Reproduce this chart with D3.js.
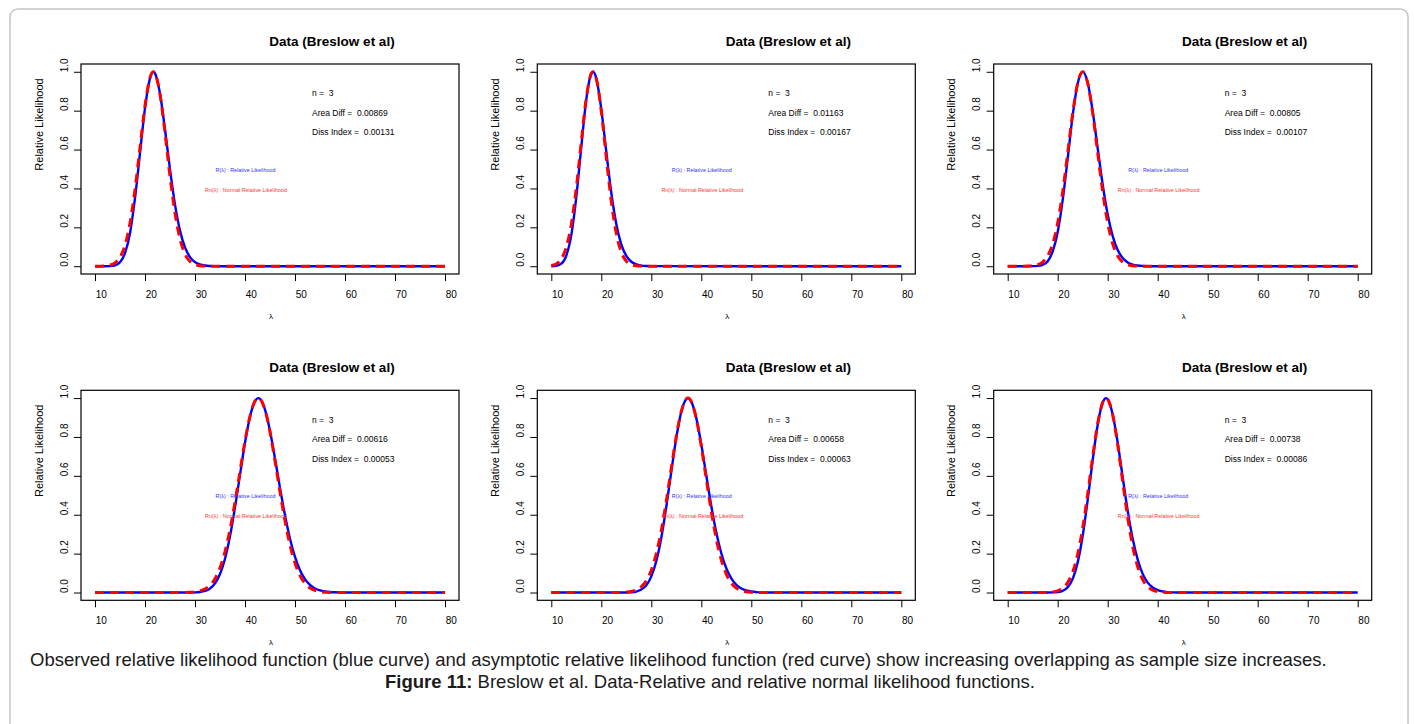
<!DOCTYPE html>
<html>
<head>
<meta charset="utf-8">
<script src="https://cdn.jsdelivr.net/npm/d3@7/dist/d3.min.js"></script>
<style>
  body { margin: 0; background: #fff; }
  svg { display: block; font-family: "Liberation Sans", Arial, Helvetica, sans-serif; }
  .pre { white-space: pre; }
</style>
</head>
<body>
<div id="chart"></div>
<script>
// panel texts
const panelTitles = ['Data (Breslow et al)', 'Data (Breslow et al)', 'Data (Breslow et al)',
  'Data (Breslow et al)', 'Data (Breslow et al)', 'Data (Breslow et al)'];
const sampleSizes = [3, 3, 3, 3, 3, 3];
const areaDiffs = ['0.00869', '0.01163', '0.00805', '0.00616', '0.00658', '0.00738'];
const dissIndexes = ['0.00131', '0.00167', '0.00107', '0.00053', '0.00063', '0.00086'];
const xTicks = [10, 20, 30, 40, 50, 60, 70, 80];
const yTicks = [0, 0.2, 0.4, 0.6, 0.8, 1.0];

// curves: lambda, observed R (blue), normal Rn (red)
const lambda1 = [10,11,12,13,14,15,16,17,18,19,20,21,21.67,22,23,24,25,26,27,28,29,30,31,32,33,34,35,80];
const blue1 = [0,0,0.0001,0.0007,0.0046,0.020,0.067,0.170,0.350,0.582,0.813,0.966,1,0.992,0.888,0.703,0.498,0.317,0.183,0.097,0.047,0.021,0.009,0.0035,0.0013,0.0005,0.0002,0];
const red1 = [0.0001,0.0004,0.0016,0.0055,0.017,0.046,0.108,0.221,0.394,0.611,0.825,0.970,1,0.992,0.884,0.686,0.463,0.273,0.140,0.062,0.024,0.008,0.0024,0.0006,0.0001,0,0,0];

const lambda2 = [10,11,12,13,14,15,16,17,18,18.33,19,20,21,22,23,24,25,26,27,28,29,30,80];
const blue2 = [0.0002,0.0023,0.013,0.055,0.160,0.355,0.614,0.858,0.991,1,0.966,0.807,0.588,0.378,0.217,0.112,0.053,0.023,0.009,0.0033,0.0011,0.0004,0];
const red2 = [0.0034,0.012,0.038,0.098,0.215,0.403,0.641,0.865,0.991,1,0.964,0.797,0.559,0.333,0.168,0.072,0.026,0.008,0.002,0.0005,0.0001,0,0];

const lambda3 = [10,14,15,16,17,18,19,20,21,22,23,24,25,26,27,28,29,30,31,32,33,34,35,36,37,38,39,80];
const blue3 = [0,0,0.0003,0.0016,0.0073,0.026,0.076,0.176,0.341,0.555,0.776,0.940,1,0.944,0.796,0.606,0.420,0.266,0.155,0.083,0.042,0.0195,0.0085,0.0035,0.0014,0.0005,0.0002,0];
const red3 = [0,0.0007,0.0025,0.0078,0.0215,0.053,0.115,0.223,0.383,0.583,0.787,0.942,1,0.942,0.787,0.583,0.383,0.223,0.115,0.053,0.0215,0.0078,0.0025,0.0007,0.0002,0,0,0];

const lambda4 = [10,27,28,29,30,31,32,33,34,35,36,37,38,39,40,41,42,42.67,43,44,45,46,47,48,49,50,51,52,53,54,55,56,57,58,59,60,80];
const blue4 = [0,0,0.0001,0.0002,0.0008,0.0028,0.008,0.021,0.047,0.095,0.174,0.289,0.438,0.605,0.770,0.904,0.984,1,0.996,0.941,0.831,0.689,0.538,0.397,0.277,0.183,0.115,0.069,0.039,0.021,0.011,0.0056,0.0027,0.0012,0.0006,0.0002,0];
const red4 = [0,0.0002,0.0005,0.0014,0.0036,0.0084,0.018,0.037,0.071,0.127,0.210,0.323,0.465,0.623,0.779,0.907,0.985,1,0.996,0.939,0.826,0.677,0.517,0.368,0.244,0.151,0.087,0.047,0.023,0.011,0.0048,0.0019,0.0007,0.0003,0.0001,0,0];

const lambda5 = [10,23,24,25,26,27,28,29,30,31,32,33,34,35,36,37,37.33,38,39,40,41,42,43,44,45,46,47,48,49,50,51,52,53,54,80];
const blue5 = [0,0,0.0001,0.0004,0.0015,0.005,0.015,0.037,0.083,0.162,0.282,0.441,0.622,0.796,0.930,0.995,1,0.982,0.897,0.761,0.602,0.445,0.309,0.202,0.125,0.073,0.040,0.021,0.011,0.005,0.0023,0.001,0.0004,0.0002,0];
const red5 = [0,0.0003,0.0008,0.0022,0.0057,0.014,0.030,0.061,0.115,0.200,0.319,0.470,0.640,0.804,0.931,0.996,1,0.982,0.894,0.751,0.583,0.417,0.275,0.168,0.094,0.049,0.023,0.010,0.0042,0.0016,0.0006,0.0002,0,0,0];

const lambda6 = [10,17,18,19,20,21,22,23,24,25,26,27,28,29,29.67,30,31,32,33,34,35,36,37,38,39,40,41,42,43,44,45,80];
const blue6 = [0,0,0.0001,0.0005,0.0023,0.0087,0.027,0.070,0.155,0.292,0.476,0.682,0.863,0.977,1,0.994,0.916,0.770,0.593,0.420,0.276,0.169,0.096,0.051,0.026,0.012,0.0055,0.0023,0.0009,0.0004,0.0001,0];
const red6 = [0,0.0003,0.001,0.0032,0.0089,0.022,0.051,0.106,0.197,0.332,0.507,0.698,0.869,0.978,1,0.994,0.914,0.759,0.570,0.387,0.237,0.132,0.066,0.030,0.012,0.0045,0.0015,0.0005,0.0001,0,0,0];

const captionLine1 = 'Observed relative likelihood function (blue curve) and asymptotic relative likelihood function (red curve) show increasing overlapping as sample size increases.';
const captionBold = 'Figure 11:';
const captionRest = ' Breslow et al. Data-Relative and relative normal likelihood functions.';

const panels = [
  { lam: lambda1, blue: blue1, red: red1 },
  { lam: lambda2, blue: blue2, red: red2 },
  { lam: lambda3, blue: blue3, red: red3 },
  { lam: lambda4, blue: blue4, red: red4 },
  { lam: lambda5, blue: blue5, red: red5 },
  { lam: lambda6, blue: blue6, red: red6 }
];

const W = 1414, H = 724;
const boxW = 378, boxH = 210;
const colX = [81, 537.3, 993.7], rowY = [64, 390.3];

const svg = d3.select('#chart').append('svg')
  .attr('width', W)
  .attr('height', H);

// outer frame
svg.append('rect')
  .attr('x', 10).attr('y', 9)
  .attr('width', 1398).attr('height', 740)
  .attr('rx', 8)
  .attr('fill', 'none')
  .attr('stroke', '#c4c4c4')
  .attr('stroke-width', 1.5);

const x = d3.scaleLinear().domain([7.2, 82.8]).range([0, boxW]);
const y = d3.scaleLinear().domain([-0.04, 1.04]).range([boxH, 0]);
const line = d3.line()
  .x(d => x(d[0]))
  .y(d => y(d[1]))
  .curve(d3.curveMonotoneX);

panels.forEach((p, i) => {
  const g = svg.append('g')
    .attr('transform', 'translate(' + colX[i % 3] + ',' + rowY[Math.floor(i / 3)] + ')');

  // title
  g.append('text')
    .attr('x', 251).attr('y', -18.5)
    .attr('text-anchor', 'middle')
    .style('font-weight', 'bold')
    .style('font-size', '13.5px')
    .text(panelTitles[i]);

  // x axis
  const xa = g.append('g')
    .attr('transform', 'translate(0,' + boxH + ')')
    .attr('font-family', null).attr('font-size', 11)
    .call(d3.axisBottom(x).tickValues(xTicks).tickSize(7).tickSizeOuter(0));
  xa.select('.domain').remove();
  xa.selectAll('text').attr('y', 24).attr('dy', null).attr('x', 5.7);

  // y axis
  const ya = g.append('g')
    .attr('font-family', null).attr('font-size', 11)
    .call(d3.axisLeft(y).tickValues(yTicks).tickFormat(d3.format('.1f')).tickSize(7).tickSizeOuter(0));
  ya.select('.domain').remove();
  ya.selectAll('text')
    .attr('x', null).attr('dy', null)
    .attr('text-anchor', 'middle')
    .attr('transform', 'translate(-13.5,-7) rotate(-90)');

  // axis labels
  g.append('text')
    .attr('transform', 'translate(-38.5,60.5) rotate(-90)')
    .attr('text-anchor', 'middle')
    .style('font-size', '11px')
    .text('Relative Likelihood');
  g.append('text')
    .attr('x', 190).attr('y', 255)
    .attr('text-anchor', 'middle')
    .style('font-size', '8px')
    .text('λ');

  // plot box
  g.append('rect')
    .attr('width', boxW).attr('height', boxH)
    .attr('fill', 'none')
    .attr('stroke', '#000')
    .attr('stroke-width', 1.2);

  // curves
  g.append('path')
    .datum(p.lam.map((l, k) => [l, p.blue[k]]))
    .attr('d', line)
    .attr('fill', 'none')
    .attr('stroke', '#0000ff')
    .attr('stroke-width', 2.4);
  g.append('path')
    .datum(p.lam.map((l, k) => [l, p.red[k]]))
    .attr('d', line)
    .attr('fill', 'none')
    .attr('stroke', '#ff0000')
    .attr('stroke-width', 3)
    .attr('stroke-dasharray', '9,6');

  // statistics
  const stats = ['n =  ' + sampleSizes[i], 'Area Diff =  ' + areaDiffs[i], 'Diss Index =  ' + dissIndexes[i]];
  g.selectAll('.stat')
    .data(stats)
    .enter()
    .append('text')
    .classed('stat pre', true)
    .attr('x', 231)
    .attr('y', (d, k) => 32.3 + k * 19.5)
    .style('font-size', '8.5px')
    .text(d => d);

  // legend
  g.append('text')
    .attr('x', 164.5).attr('y', 108)
    .attr('text-anchor', 'middle')
    .attr('fill', '#3333ff')
    .style('font-size', '5.4px')
    .text('R(λ) : Relative Likelihood');
  g.append('text')
    .attr('x', 165).attr('y', 128)
    .attr('text-anchor', 'middle')
    .attr('fill', '#ff3333')
    .style('font-size', '5.4px')
    .text('Rn(λ) : Normal Relative Likelihood');
});

// caption
svg.append('text')
  .attr('x', 30).attr('y', 666)
  .attr('fill', '#1a1a1a')
  .style('font-size', '18.5px')
  .text(captionLine1);
const cap2 = svg.append('text')
  .attr('x', 710).attr('y', 688)
  .attr('text-anchor', 'middle')
  .attr('fill', '#1a1a1a')
  .style('font-size', '18.5px')
  .classed('pre', true);
cap2.append('tspan').style('font-weight', 'bold').text(captionBold);
cap2.append('tspan').text(captionRest);
</script>
</body>
</html>
